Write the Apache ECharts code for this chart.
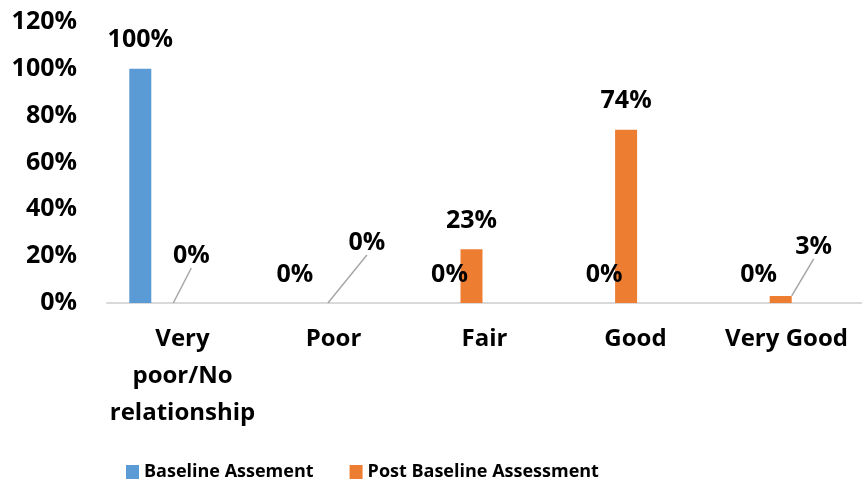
<!DOCTYPE html>
<html>
<head>
<meta charset="utf-8">
<script src="https://cdn.jsdelivr.net/npm/echarts@6/dist/echarts.min.js"></script>
<style>
  html, body { margin: 0; padding: 0; background: #fff; }
  #chart { width: 862px; height: 481px; }
</style>
</head>
<body>
<div id="chart"></div>
<script>
  var categories = ['Very\npoor/No\nrelationship', 'Poor', 'Fair', 'Good', 'Very Good'];
  var seriesNames = ['Baseline Assement', 'Post Baseline Assessment'];
  var baseline = [100, 0, 0, 0, 0];
  var postBaseline = [0, 0, 23, 74, 3];
  var yTicks = [0, 20, 40, 60, 80, 100, 120];

  // labels that Excel pulled away from their bar, with a leader line
  var movedLabels = { 0: [29, -19], 1: [50, -32], 4: [33, -21] };

  var font = 'Open Sans';
  var labelStyle = { color: '#000', fontFamily: font, fontWeight: 'bold', fontSize: 25 };

  var chart = echarts.init(document.getElementById('chart'));
  chart.setOption({
    animation: false,
    legend: {
      data: seriesNames,
      left: 126,
      top: 461,
      padding: 0,
      icon: 'rect',
      itemWidth: 13,
      itemHeight: 14,
      itemGap: 36,
      textStyle: { color: '#000', fontFamily: font, fontWeight: 'bold', fontSize: 18, lineHeight: 22 }
    },
    grid: [
      { left: 74, right: 15, top: 22, bottom: 178 },
      { left: 107, right: -6, top: 22, bottom: 178 }
    ],
    xAxis: [
      { gridIndex: 0, type: 'category', data: categories, show: false },
      {
        gridIndex: 1, type: 'category', data: categories,
        axisLine: { lineStyle: { color: '#d9d9d9', width: 2 } },
        axisTick: { show: false },
        axisLabel: {
          color: '#000', fontFamily: font, fontWeight: 'bold', fontSize: 24,
          lineHeight: 37, margin: 18, interval: 0
        }
      }
    ],
    yAxis: [
      { gridIndex: 0, type: 'value', min: yTicks[0], max: yTicks[yTicks.length - 1], interval: 20, show: false },
      {
        gridIndex: 1, type: 'value', min: yTicks[0], max: yTicks[yTicks.length - 1], interval: 20,
        axisLine: { show: false },
        axisTick: { show: false },
        splitLine: { show: false },
        axisLabel: {
          color: '#000', fontFamily: font, fontWeight: 'bold', fontSize: 25, margin: 30,
          formatter: '{value}%'
        }
      }
    ],
    series: [
      {
        name: seriesNames[0],
        type: 'bar',
        xAxisIndex: 0, yAxisIndex: 0,
        barWidth: 22,
        barGap: '0%',
        itemStyle: { color: '#5b9bd5' },
        label: Object.assign({ show: true, position: 'top', distance: 16, formatter: '{c}%' }, labelStyle),
        data: baseline
      },
      {
        name: seriesNames[1],
        type: 'bar',
        xAxisIndex: 0, yAxisIndex: 0,
        barWidth: 22,
        barGap: '0%',
        itemStyle: { color: '#ed7d31' },
        label: Object.assign({ show: true, position: 'top', distance: 16, formatter: '{c}%' }, labelStyle),
        labelLine: { show: false, lineStyle: { color: '#a6a6a6', width: 1.5 } },
        labelLayout: function (p) {
          var m = movedLabels[p.dataIndex];
          return m ? { dx: m[0], dy: m[1] } : {};
        },
        data: postBaseline.map(function (v, i) {
          return movedLabels[i] ? { value: v, labelLine: { show: true } } : v;
        })
      }
    ]
  });
</script>
</body>
</html>
